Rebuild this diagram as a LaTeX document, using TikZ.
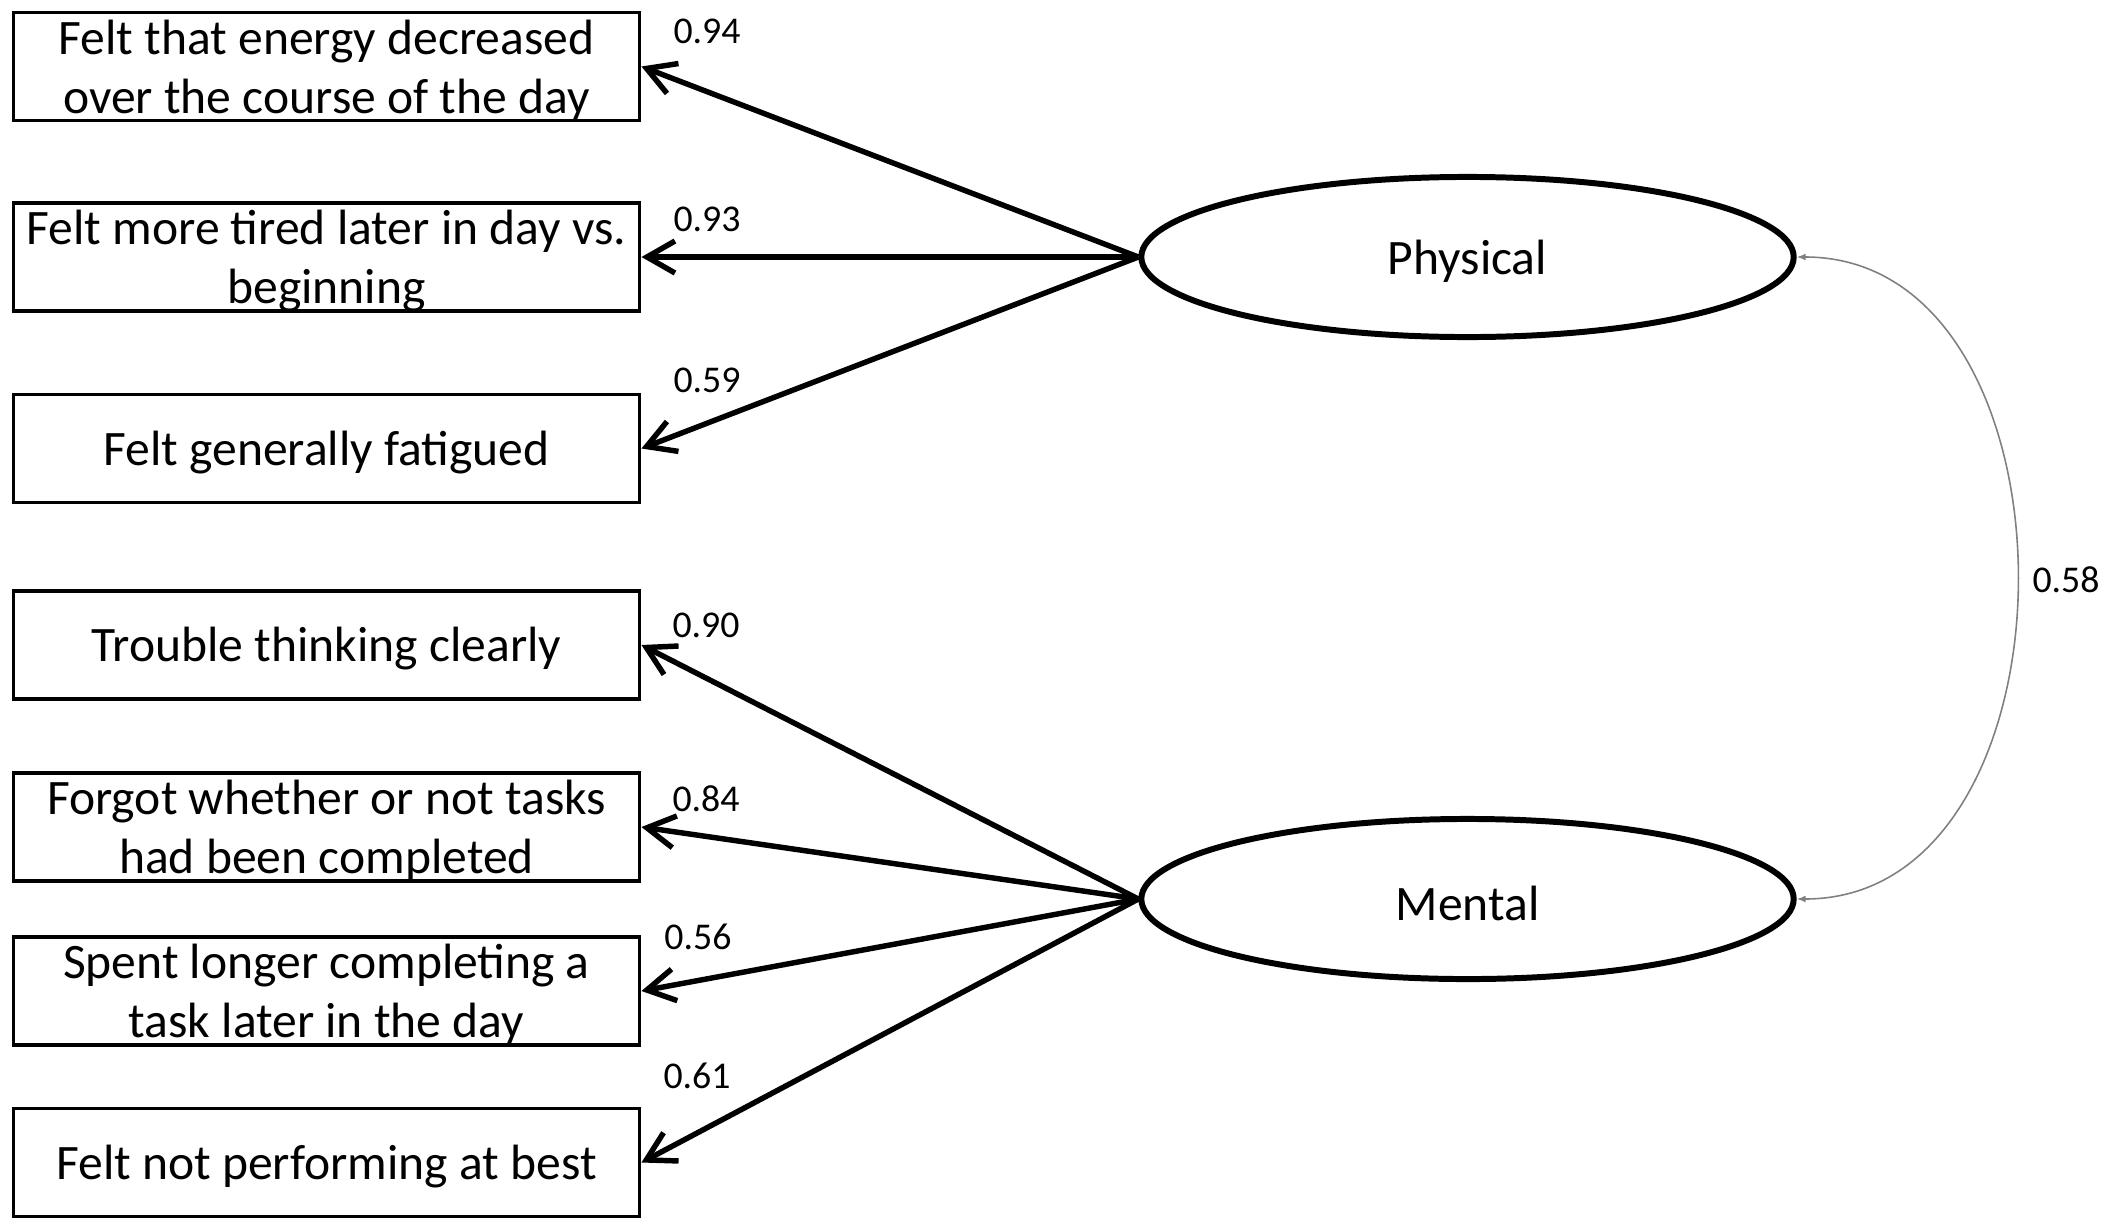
\documentclass[tikz,border=0pt]{standalone}
\usepackage{fontspec}
\setmainfont{Carlito}
\usetikzlibrary{arrows.meta,shapes.geometric}
\begin{document}
\begin{tikzpicture}[x=0.01cm,y=-0.01cm,
  txt/.style={inner sep=0pt, align=center, yshift=-0.04cm, font=\fontsize{14.1}{16.9}\selectfont},
  item/.style={draw, line width=1pt, minimum width=6.26cm, minimum height=1.08cm, inner sep=0pt, label={[txt]center:{#1}}},
  factor/.style={draw, ellipse, line width=1.7pt, minimum width=6.52cm, minimum height=1.6cm, inner sep=0pt, label={[txt]center:{#1}}},
  load/.style={line width=1.55pt, -{Straight Barb[length=0.28cm,width=0.32cm,line width=1.55pt]}},
  coef/.style={font=\fontsize{10.75}{12}\selectfont, inner sep=0pt},
  corr/.style={draw=gray, line width=0.45pt, {Latex[length=0.09cm,width=0.07cm]}-{Latex[length=0.09cm,width=0.07cm]}}
]
\useasboundingbox (0,0) rectangle (2125,1221);

% observed items
\node[item={Felt that energy decreased\\over the course of the day}] (b1) at (326.5,66.5) {};
\node[item={Felt more tired later in day vs.\\beginning}] (b2) at (326.5,257) {};
\node[item={Felt generally fatigued}] (b3) at (326.5,448.5) {};
\node[item={Trouble thinking clearly}] (b4) at (326.5,645) {};
\node[item={Forgot whether or not tasks\\had been completed}] (b5) at (326.5,827) {};
\node[item={Spent longer completing a\\task later in the day}] (b6) at (326.5,991) {};
\node[item={Felt not performing at best}] (b7) at (326.5,1162.5) {};

% latent factors
\node[factor={Physical}] (phys) at (1467.5,257) {};
\node[factor={Mental}] (ment) at (1467.5,899) {};

% loadings
\draw[load] (phys.west) -- (b1.east);
\draw[load] (phys.west) -- (b2.east);
\draw[load] (phys.west) -- (b3.east);
\draw[load] (ment.west) -- (b4.east);
\draw[load] (ment.west) -- (b5.east);
\draw[load] (ment.west) -- (b6.east);
\draw[load] (ment.west) -- (b7.east);

% coefficients
\node[coef] (c1) at (707,31) {0.94};
\node[coef] (c2) at (707,219) {0.93};
\node[coef] (c3) at (707,380) {0.59};
\node[coef] (c4) at (706,625) {0.90};
\node[coef] (c5) at (706,799) {0.84};
\node[coef] (c6) at (698,937) {0.56};
\node[coef] (c7) at (697,1076) {0.61};

% correlation
\draw[corr] (phys.east) to[out=0,in=0,looseness=1.17] (ment.east);
\node[coef] (c8) at (2066,580) {0.58};
\end{tikzpicture}
\end{document}
